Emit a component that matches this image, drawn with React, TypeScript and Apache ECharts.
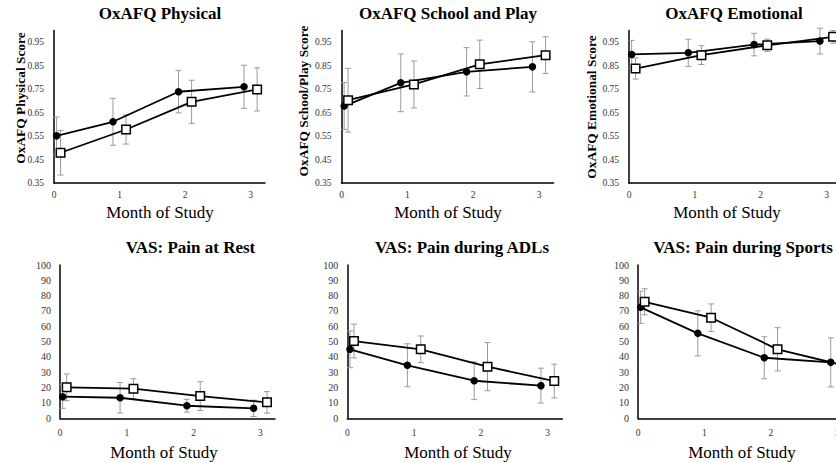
import React, { useEffect, useRef } from "react";
import * as echarts from "echarts";

const FONT = "Liberation Serif";

// x positions (months, slightly offset per group)
const circleX = [0.04, 0.9, 1.9, 2.9];
const squareX = [0.1, 1.1, 2.1, 3.1];
const monthTicks = [0, 1, 2, 3];

// OxAFQ Physical
const physCircle = [0.551, 0.611, 0.739, 0.76];
const physCircleErr = [0.08, 0.1, 0.09, 0.092];
const physSquare = [0.479, 0.578, 0.696, 0.749];
const physSquareErr = [0.095, 0.062, 0.092, 0.092];

// OxAFQ School and Play
const schoolCircle = [0.678, 0.777, 0.824, 0.845];
const schoolCircleErr = [0.1, 0.123, 0.103, 0.107];
const schoolSquare = [0.703, 0.77, 0.856, 0.895];
const schoolSquareErr = [0.136, 0.1, 0.103, 0.078];

// OxAFQ Emotional
const emoCircle = [0.898, 0.905, 0.94, 0.955];
const emoCircleErr = [0.06, 0.058, 0.048, 0.055];
const emoSquare = [0.838, 0.895, 0.937, 0.973];
const emoSquareErr = [0.045, 0.04, 0.026, 0.027];

// VAS: Pain at Rest
const restCircle = [14.1, 13.4, 8.2, 6.5];
const restCircleErr = [7.6, 10, 4.2, 5.3];
const restSquare = [20.2, 19.3, 14.5, 10.4];
const restSquareErr = [8.7, 6.5, 9.4, 7];

// VAS: Pain during ADLs
const adlCircle = [45, 34.6, 24.5, 21.3];
const adlCircleErr = [12, 14, 12.3, 11.4];
const adlSquare = [50.4, 45, 33.7, 24.3];
const adlSquareErr = [11, 8.7, 15.7, 11];

// VAS: Pain during Sports
const sportCircle = [72.4, 55.4, 39.5, 36.5];
const sportCircleErr = [10.5, 14.7, 13.7, 16];
const sportSquare = [76, 65.6, 45, 34.5];
const sportSquareErr = [8.5, 9, 14.1, 10];

const titles = [
  "OxAFQ Physical",
  "OxAFQ School and Play",
  "OxAFQ Emotional",
  "VAS: Pain at Rest",
  "VAS: Pain during ADLs",
  "VAS: Pain during Sports",
];
const yTitles = ["OxAFQ Physical Score", "OxAFQ School/Play Score", "OxAFQ Emotional Score"];
const xTitle = "Month of Study";

const panels = [
  { left: 54, top: 30.5, width: 211, height: 152.5, kind: "score", c: physCircle, ce: physCircleErr, s: physSquare, se: physSquareErr, tx: 160, ty: 13, xtx: 160, xty: 212, ytx: 20, yty: 98 },
  { left: 341.5, top: 30.5, width: 212, height: 152.5, kind: "score", c: schoolCircle, ce: schoolCircleErr, s: schoolSquare, se: schoolSquareErr, tx: 448, ty: 13, xtx: 448, xty: 212, ytx: 303, yty: 101 },
  { left: 629, top: 30.5, width: 212, height: 152.5, kind: "score", c: emoCircle, ce: emoCircleErr, s: emoSquare, se: emoSquareErr, tx: 734, ty: 13, xtx: 727, xty: 212, ytx: 591.5, yty: 107 },
  { left: 60, top: 265, width: 215, height: 153.3, kind: "vas", c: restCircle, ce: restCircleErr, s: restSquare, se: restSquareErr, tx: 190.5, ty: 247, xtx: 164, xty: 452, ytx: 0, yty: 0 },
  { left: 347.3, top: 265, width: 215, height: 153.3, kind: "vas", c: adlCircle, ce: adlCircleErr, s: adlSquare, se: adlSquareErr, tx: 462, ty: 247, xtx: 458, xty: 452, ytx: 0, yty: 0 },
  { left: 638, top: 265, width: 214, height: 153.3, kind: "vas", c: sportCircle, ce: sportCircleErr, s: sportSquare, se: sportSquareErr, tx: 743, ty: 247, xtx: 742, xty: 452, ytx: 0, yty: 0 },
];

const X_MAX = 3.22;

function errorRender(params: any, api: any) {
  const x = api.value(0);
  const y = api.value(1);
  const e = api.value(2);
  const top = api.coord([x, y + e]);
  const bot = api.coord([x, y - e]);
  const hw = 3;
  const style = { stroke: "#9a9a9a", lineWidth: 1 };
  return {
    type: "group",
    children: [
      { type: "line", shape: { x1: top[0], y1: top[1], x2: bot[0], y2: bot[1] }, style },
      { type: "line", shape: { x1: top[0] - hw, y1: top[1], x2: top[0] + hw, y2: top[1] }, style },
      { type: "line", shape: { x1: bot[0] - hw, y1: bot[1], x2: bot[0] + hw, y2: bot[1] }, style },
    ],
  };
}

export default function App() {
  const ref = useRef<HTMLDivElement>(null);
  useEffect(() => {
    if (!ref.current) return;
    const chart = echarts.init(ref.current, null, { renderer: "svg" });

    const grid = panels.map((p) => ({ left: p.left, top: p.top, width: p.width, height: p.height, containLabel: false }));
    const xAxis = panels.map((p, i) => ({
      type: "value",
      gridIndex: i,
      min: 0,
      max: X_MAX,
      interval: 1,
      axisLine: { show: true, onZero: false, lineStyle: { color: "#000", width: 1.5 } },
      axisTick: { show: false },
      splitLine: { show: false },
      axisLabel: {
        show: true,
        fontSize: 9.5,
        color: "#333",
        fontFamily: FONT,
        margin: p.kind === "score" ? 7 : 10,
        showMaxLabel: false,
        formatter: (v: number) => (monthTicks.includes(Math.round(v * 1000) / 1000) ? String(Math.round(v)) : ""),
      },
    }));
    const yAxis = panels.map((p, i) =>
      p.kind === "score"
        ? {
            type: "value",
            gridIndex: i,
            min: 0.35,
            max: 1.0,
            interval: 0.1,
            axisLine: { show: true, onZero: false, lineStyle: { color: "#000", width: 1.5 } },
            axisTick: { show: false },
            splitLine: { show: false },
            axisLabel: {
              fontSize: 9.5,
              color: "#333",
              fontFamily: FONT,
              margin: 10,
              showMaxLabel: false,
              formatter: (v: number) => (v > 0.99 ? "" : v.toFixed(2)),
            },
          }
        : {
            type: "value",
            gridIndex: i,
            min: 0,
            max: 100,
            interval: 10,
            axisLine: { show: true, onZero: false, lineStyle: { color: "#000", width: 1.5 } },
            axisTick: { show: false },
            splitLine: { show: false },
            axisLabel: { fontSize: 10, color: "#333", fontFamily: FONT, margin: 9 },
          }
    );

    const series: any[] = [];
    panels.forEach((p, i) => {
      series.push({
        type: "custom",
        xAxisIndex: i,
        yAxisIndex: i,
        z: 1,
        silent: true,
        renderItem: errorRender,
        encode: { x: 0, y: 1 },
        data: circleX.map((x, j) => [x, p.c[j], p.ce[j]]),
      });
      series.push({
        type: "custom",
        xAxisIndex: i,
        yAxisIndex: i,
        z: 1,
        silent: true,
        renderItem: errorRender,
        encode: { x: 0, y: 1 },
        data: squareX.map((x, j) => [x, p.s[j], p.se[j]]),
      });
      series.push({
        type: "line",
        xAxisIndex: i,
        yAxisIndex: i,
        z: 3,
        symbol: "circle",
        symbolSize: 7.5,
        clip: false,
        itemStyle: { color: "#000" },
        lineStyle: { color: "#000", width: 1.8 },
        data: circleX.map((x, j) => [x, p.c[j]]),
      });
      series.push({
        type: "line",
        xAxisIndex: i,
        yAxisIndex: i,
        z: 4,
        symbol: "rect",
        symbolSize: 8.5,
        clip: false,
        itemStyle: { color: "#fff", borderColor: "#000", borderWidth: 1.5 },
        lineStyle: { color: "#000", width: 1.8 },
        data: squareX.map((x, j) => [x, p.s[j]]),
      });
    });

    const graphic: any[] = [];
    panels.forEach((p, i) => {
      graphic.push({
        type: "text",
        x: p.tx,
        y: p.ty,
        style: { text: titles[i], fontFamily: FONT, fontSize: 17, fontWeight: "bold", fill: "#000", align: "center", verticalAlign: "middle" },
      });
      graphic.push({
        type: "text",
        x: p.xtx,
        y: p.xty,
        style: { text: xTitle, fontFamily: FONT, fontSize: 17, fill: "#000", align: "center", verticalAlign: "middle" },
      });
      if (p.kind === "score") {
        graphic.push({
          type: "text",
          x: p.ytx,
          y: p.yty,
          rotation: Math.PI / 2,
          style: { text: yTitles[i], fontFamily: FONT, fontSize: 13.4, fontWeight: "bold", fill: "#000", align: "center", verticalAlign: "middle" },
        });
      }
    });

    chart.setOption({
      animation: false,
      backgroundColor: "#fff",
      grid,
      xAxis,
      yAxis,
      series,
      graphic,
    });
    return () => chart.dispose();
  }, []);
  return (
    <div style={{ position: "absolute", left: 0, top: 0, width: 836, height: 463, overflow: "hidden", background: "#fff" }}>
      <div ref={ref} style={{ width: 900, height: 463 }} />
    </div>
  );
}
